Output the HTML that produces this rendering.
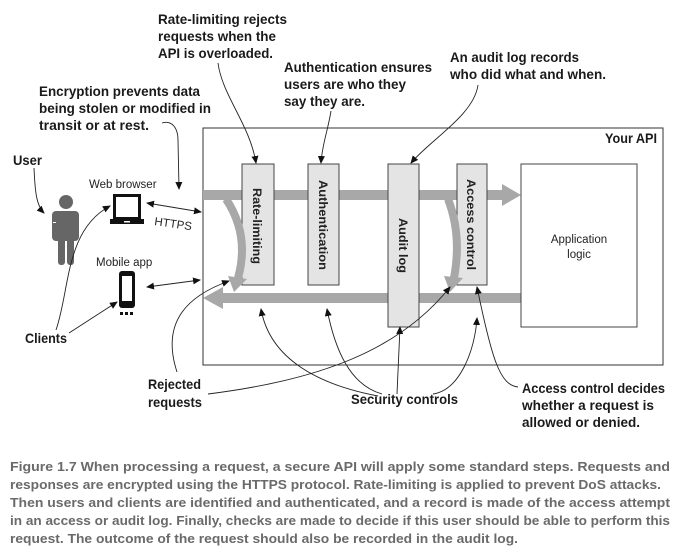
<!DOCTYPE html>
<html><head><meta charset="utf-8"><style>
html,body{margin:0;padding:0;background:#fff;}
svg{display:block;}
.b{font-family:"Liberation Sans",sans-serif;font-weight:bold;font-size:14px;fill:#1a1a1a;}
.r{font-family:"Liberation Sans",sans-serif;font-size:11.5px;fill:#222;}
.c{font-family:"Liberation Sans",sans-serif;font-weight:bold;font-size:13px;fill:#6a6a6a;}
.v{font-family:"Liberation Sans",sans-serif;font-weight:bold;font-size:12px;fill:#222;}
.ln{fill:none;stroke:#222;stroke-width:0.9;}
</style></head><body>
<svg width="676" height="552" viewBox="0 0 676 552" xmlns="http://www.w3.org/2000/svg">
<defs>
<marker id="a" markerWidth="8" markerHeight="8" refX="7" refY="4" orient="auto" markerUnits="userSpaceOnUse">
<path d="M0,0.5 L8,4 L0,7.5 Z" fill="#111"/></marker>
<marker id="s" markerWidth="8" markerHeight="8" refX="1" refY="4" orient="auto" markerUnits="userSpaceOnUse">
<path d="M8,0.5 L0,4 L8,7.5 Z" fill="#111"/></marker>
</defs>
<rect width="676" height="552" fill="#fff"/>
<!-- API box -->
<rect x="203" y="128" width="460" height="237" fill="#fff" stroke="#333" stroke-width="1"/>
<text class="b" x="605" y="143" font-size="12" textLength="52" lengthAdjust="spacingAndGlyphs">Your API</text>
<!-- bands -->
<rect x="203" y="190" width="300" height="10" fill="#a8a8a8"/>
<path d="M502,184 L521,195 L502,206 Z" fill="#a8a8a8"/>
<rect x="222" y="293" width="299" height="10" fill="#a8a8a8"/>
<path d="M223,287 L203,298 L223,309 Z" fill="#a8a8a8"/>
<!-- bars -->
<rect x="242" y="164" width="32" height="121" fill="#e4e4e4" stroke="#444"/>
<rect x="308" y="164" width="31" height="121" fill="#e4e4e4" stroke="#444"/>
<rect x="388" y="164" width="31" height="163" fill="#e4e4e4" stroke="#444"/>
<rect x="457" y="164" width="30" height="121" fill="#e4e4e4" stroke="#444"/>
<rect x="521" y="164" width="116" height="163" fill="#fff" stroke="#444"/>
<text class="r" x="579" y="243" text-anchor="middle" font-size="12.5">Application</text>
<text class="r" x="579" y="258" text-anchor="middle" font-size="12.5">logic</text>
<text class="v" transform="translate(253,188) rotate(90)" textLength="76" lengthAdjust="spacingAndGlyphs">Rate-limiting</text>
<text class="v" transform="translate(319,180) rotate(90)" textLength="90" lengthAdjust="spacingAndGlyphs">Authentication</text>
<text class="v" transform="translate(399,218) rotate(90)" textLength="55" lengthAdjust="spacingAndGlyphs">Audit log</text>
<text class="v" transform="translate(467,179) rotate(90)" textLength="91" lengthAdjust="spacingAndGlyphs">Access control</text>
<!-- curved gray arrows -->
<path d="M226,199 Q250,235 238,278" fill="none" stroke="#a8a8a8" stroke-width="8"/>
<path d="M228,276 L247,279 L234,292 Z" fill="#a8a8a8"/>
<path d="M448,199 Q462,235 454,278" fill="none" stroke="#a8a8a8" stroke-width="8"/>
<path d="M444,276 L463,278 L450,292 Z" fill="#a8a8a8"/>
<!-- person -->
<g fill="#666">
<circle cx="66" cy="202" r="7"/>
<rect x="52" y="211" width="27" height="30" rx="4"/>
<rect x="58" y="225" width="7" height="40" rx="3"/>
<rect x="67" y="225" width="7" height="40" rx="3"/>
</g>
<rect x="53" y="222" width="3" height="1" fill="#fff"/>
<!-- laptop -->
<rect x="114.5" y="195.5" width="25" height="23" fill="#fff" stroke="#111" stroke-width="3"/>
<rect x="110" y="219" width="34" height="5" fill="#111"/>
<rect x="124" y="221" width="6" height="1.5" fill="#fff"/>
<!-- phone -->
<rect x="119" y="271" width="16" height="37" rx="3" fill="#111"/>
<rect x="122" y="276" width="10" height="25" fill="#fff"/>
<rect x="120" y="312" width="3" height="3" fill="#111"/><rect x="125" y="312" width="3" height="3" fill="#111"/><rect x="130" y="312" width="3" height="3" fill="#111"/>
<!-- labels -->
<text class="r" x="89" y="188">Web browser</text>
<text class="r" x="96" y="266">Mobile app</text>
<text class="r" transform="translate(154,225) rotate(8)" font-size="12">HTTPS</text>
<text class="b" x="158" y="24" textLength="129" lengthAdjust="spacingAndGlyphs">Rate-limiting rejects</text>
<text class="b" x="158" y="41" textLength="118" lengthAdjust="spacingAndGlyphs">requests when the</text>
<text class="b" x="158" y="58" textLength="115" lengthAdjust="spacingAndGlyphs">API is overloaded.</text>
<text class="b" x="284" y="72" textLength="148" lengthAdjust="spacingAndGlyphs">Authentication ensures</text>
<text class="b" x="284" y="89" textLength="122" lengthAdjust="spacingAndGlyphs">users are who they</text>
<text class="b" x="284" y="106" textLength="81" lengthAdjust="spacingAndGlyphs">say they are.</text>
<text class="b" x="450" y="62" textLength="129" lengthAdjust="spacingAndGlyphs">An audit log records</text>
<text class="b" x="450" y="79" textLength="156" lengthAdjust="spacingAndGlyphs">who did what and when.</text>
<text class="b" x="39" y="96" textLength="161" lengthAdjust="spacingAndGlyphs">Encryption prevents data</text>
<text class="b" x="39" y="113" textLength="172" lengthAdjust="spacingAndGlyphs">being stolen or modified in</text>
<text class="b" x="39" y="130" textLength="110" lengthAdjust="spacingAndGlyphs">transit or at rest.</text>
<text class="b" x="13" y="165" textLength="29" lengthAdjust="spacingAndGlyphs">User</text>
<text class="b" x="25" y="343" textLength="42" lengthAdjust="spacingAndGlyphs">Clients</text>
<text class="b" x="148" y="389" textLength="53" lengthAdjust="spacingAndGlyphs">Rejected</text>
<text class="b" x="148" y="407" textLength="54" lengthAdjust="spacingAndGlyphs">requests</text>
<text class="b" x="351" y="404" textLength="107" lengthAdjust="spacingAndGlyphs">Security controls</text>
<text class="b" x="522" y="393" textLength="143" lengthAdjust="spacingAndGlyphs">Access control decides</text>
<text class="b" x="522" y="410" textLength="132" lengthAdjust="spacingAndGlyphs">whether a request is</text>
<text class="b" x="522" y="427" textLength="118" lengthAdjust="spacingAndGlyphs">allowed or denied.</text>
<!-- connectors -->
<path class="ln" d="M218,63 C222,95 250,125 256,163" marker-end="url(#a)"/>
<path class="ln" d="M331,111 C328,130 322,145 321,163" marker-end="url(#a)"/>
<path class="ln" d="M478,85 C474,115 430,140 411,163" marker-end="url(#a)"/>
<path class="ln" d="M162,123 C172,120 178,128 178,140 L179,189" marker-end="url(#a)"/>
<path class="ln" d="M34,168 C35,190 36,205 44,213" marker-end="url(#a)"/>
<path class="ln" d="M147,203 L201,212" marker-start="url(#s)" marker-end="url(#a)"/>
<path class="ln" d="M147,287 L200,280" marker-start="url(#s)" marker-end="url(#a)"/>
<path class="ln" d="M56,330 C70,290 65,230 110,206" marker-end="url(#a)"/>
<path class="ln" d="M69,333 L117,302" marker-end="url(#a)"/>
<path class="ln" d="M177,372 C160,320 190,295 229,281" marker-end="url(#a)"/>
<path class="ln" d="M208,394 C320,380 400,350 450,287" marker-end="url(#a)"/>
<path class="ln" d="M378,396 C320,385 270,360 261,309" marker-end="url(#a)"/>
<path class="ln" d="M382,394 C350,385 335,350 327,309" marker-end="url(#a)"/>
<path class="ln" d="M397,394 L400,327" marker-end="url(#a)"/>
<path class="ln" d="M433,394 C460,390 475,350 477,318" marker-end="url(#a)"/>
<path class="ln" d="M518,387 C500,385 492,360 477,287" marker-end="url(#a)"/>
<!-- caption -->
<text class="c" x="10" y="471" textLength="660" lengthAdjust="spacingAndGlyphs">Figure 1.7    When processing a request, a secure API will apply some standard steps. Requests and</text>
<text class="c" x="10" y="489" textLength="651" lengthAdjust="spacingAndGlyphs">responses are encrypted using the HTTPS protocol. Rate-limiting is applied to prevent DoS attacks.</text>
<text class="c" x="10" y="507" textLength="660" lengthAdjust="spacingAndGlyphs">Then users and clients are identified and authenticated, and a record is made of the access attempt</text>
<text class="c" x="10" y="525" textLength="660" lengthAdjust="spacingAndGlyphs">in an access or audit log. Finally, checks are made to decide if this user should be able to perform this</text>
<text class="c" x="10" y="543" textLength="508" lengthAdjust="spacingAndGlyphs">request. The outcome of the request should also be recorded in the audit log.</text>
</svg>
</body></html>
